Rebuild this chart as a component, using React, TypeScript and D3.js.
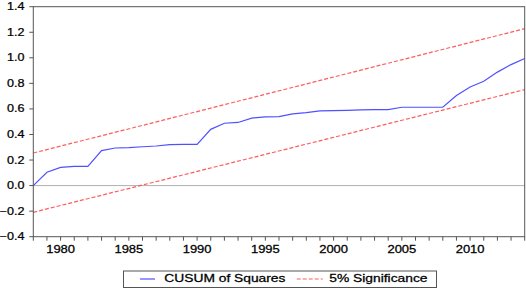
import React from "react";
import * as d3 from "d3";

const years: number[] = [
  1978, 1979, 1980, 1981, 1982, 1983, 1984, 1985, 1986, 1987, 1988, 1989,
  1990, 1991, 1992, 1993, 1994, 1995, 1996, 1997, 1998, 1999, 2000, 2001,
  2002, 2003, 2004, 2005, 2006, 2007, 2008, 2009, 2010, 2011, 2012, 2013, 2014,
];
const cusumSq: number[] = [
  0.0, 0.104, 0.143, 0.15, 0.15, 0.274, 0.294, 0.297, 0.304, 0.31, 0.32, 0.322,
  0.323, 0.44, 0.488, 0.494, 0.528, 0.538, 0.54, 0.561, 0.571, 0.584, 0.586, 0.589,
  0.593, 0.594, 0.595, 0.613, 0.613, 0.613, 0.613, 0.705, 0.772, 0.816, 0.888, 0.947, 0.995,
];
const bandYears: number[] = [1978, 2014];
const upperBand: number[] = [0.255, 1.228];
const lowerBand: number[] = [-0.209, 0.751];
const yTicks: number[] = [-0.4, -0.2, 0.0, 0.2, 0.4, 0.6, 0.8, 1.0, 1.2, 1.4];
const xLabelYears: number[] = [1980, 1985, 1990, 1995, 2000, 2005, 2010];
const legendLabels: string[] = ["CUSUM of Squares", "5% Significance"];

const W = 526;
const H = 289;
const left = 33.3;
const right = 524.7;
const top = 6.7;
const bottom = 236.7;
const FONT = "'Liberation Sans', Arial, sans-serif";
const BLUE = "#5050ff";
const RED = "#ff5c5c";

function STxt(props: { x: number; y: number; anchor: string; sx: number; children: React.ReactNode }) {
  return (
    <g transform={`translate(${props.x},${props.y}) scale(${props.sx},1)`}>
      <text
        x={0}
        y={0}
        textAnchor={props.anchor as any}
        fontFamily={FONT}
        fontSize={10}
        fill="#000"
        stroke="#000"
        strokeWidth={0.25}
      >
        {props.children}
      </text>
    </g>
  );
}

export default function App() {
  const x = d3.scaleLinear().domain([1978, 2014]).range([left, right]);
  const y = d3.scaleLinear().domain([-0.4, 1.4]).range([bottom, top]);
  const line = d3
    .line<[number, number]>()
    .x((d) => x(d[0]))
    .y((d) => y(d[1]));
  const cusumPts: [number, number][] = years.map((yr, i) => [yr, cusumSq[i]]);
  const upPts: [number, number][] = bandYears.map((yr, i) => [yr, upperBand[i]]);
  const loPts: [number, number][] = bandYears.map((yr, i) => [yr, lowerBand[i]]);
  const fmt = d3.format(".1f");

  return (
    <svg
      width={W}
      height={H}
      style={{ position: "absolute", left: 0, top: 0, background: "#fff" }}
    >
      <rect x={0} y={0} width={W} height={H} fill="#fff" />
      <line x1={left} x2={right} y1={y(0)} y2={y(0)} stroke="#b0b0b0" strokeWidth={1} />
      <path d={line(upPts) || ""} fill="none" stroke={RED} strokeWidth={1.2} strokeDasharray="4,2" />
      <path d={line(loPts) || ""} fill="none" stroke={RED} strokeWidth={1.2} strokeDasharray="4,2" />
      <path d={line(cusumPts) || ""} fill="none" stroke={BLUE} strokeWidth={1.2} />
      <rect
        x={left}
        y={top}
        width={right - left}
        height={bottom - top}
        fill="none"
        stroke="#555"
        strokeWidth={1}
      />
      {yTicks.map((t) => (
        <g key={t}>
          <line x1={left - 4} x2={left} y1={y(t)} y2={y(t)} stroke="#555" />
          <STxt x={24.5} y={y(t) + 3.5} anchor="end" sx={1.26}>
            {fmt(t)}
          </STxt>
        </g>
      ))}
      {years.map((yr) => (
        <line key={yr} x1={x(yr)} x2={x(yr)} y1={bottom} y2={bottom + 4} stroke="#555" />
      ))}
      {xLabelYears.map((yr) => (
        <STxt key={yr} x={x(yr)} y={252.7} anchor="middle" sx={1.3}>
          {yr}
        </STxt>
      ))}
      <rect x={123.5} y={271} width={313} height={16.5} fill="#fff" stroke="#555" strokeWidth={1} />
      <line x1={140} x2={155} y1={279} y2={279} stroke={BLUE} strokeWidth={1.2} />
      <STxt x={164.3} y={282} anchor="start" sx={1.38}>
        {legendLabels[0]}
      </STxt>
      <line x1={296.7} x2={322.7} y1={279} y2={279} stroke={RED} strokeWidth={1.2} strokeDasharray="4,2" />
      <STxt x={329.3} y={282} anchor="start" sx={1.38}>
        {legendLabels[1]}
      </STxt>
    </svg>
  );
}
